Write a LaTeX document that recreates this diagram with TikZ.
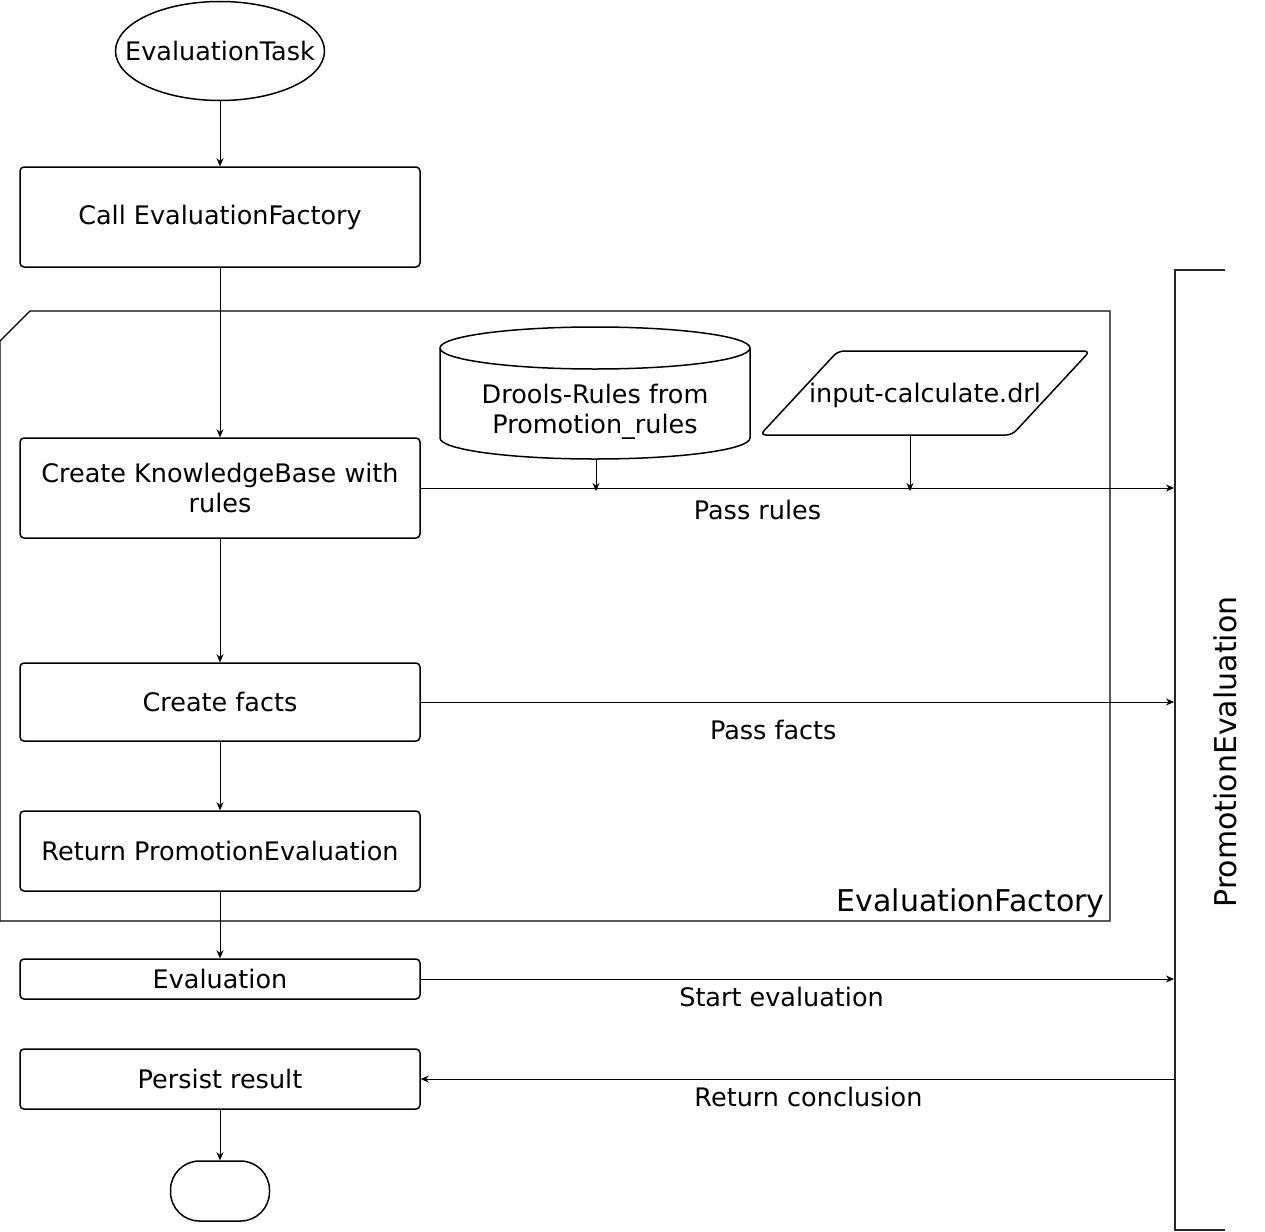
\documentclass[tikz,border=0pt]{standalone}
\usepackage{fontspec}
\setmainfont{DejaVu Sans}
\usetikzlibrary{shapes.geometric,arrows.meta}

\begin{document}
\begin{tikzpicture}[x=1pt,y=-1pt,
    every node/.style={font=\fontsize{25.5}{30}\selectfont, align=center},
    proc/.style={draw, line width=1.5pt, rounded corners=4pt, minimum width=400pt, inner sep=0pt},
    flow/.style={-{Stealth[length=8pt,width=7pt]}, line width=0.8pt},
    lbl/.style={inner sep=0pt, anchor=base},
    big/.style={font=\fontsize{30}{36}\selectfont}]
    \useasboundingbox (0,0) rectangle (1265,1231);

    % frame of the factory
    \draw[line width=1.1pt] (0,341) -- (30,311) -- (1110,311) -- (1110,921) -- (0,921) -- cycle;
    \node[big, anchor=base east] (factory) at (1108,911) {EvaluationFactory};

    % main flow
    \node[draw, ellipse, line width=1.5pt, minimum width=209pt, minimum height=99pt, inner xsep=-21pt, inner ysep=0pt] (task) at (220,51) {EvaluationTask};
    \node[proc, minimum height=100pt] (call) at (220,217) {Call EvaluationFactory};
    \node[proc, minimum height=100pt] (kb) at (220,488) {Create KnowledgeBase with\\rules};
    \node[proc, minimum height=78pt] (facts) at (220,702) {Create facts};
    \node[proc, minimum height=80pt] (ret) at (220,851) {Return PromotionEvaluation};
    \node[proc, minimum height=40pt] (eval) at (220,979) {Evaluation};
    \node[proc, minimum height=60pt] (persist) at (220,1079) {Persist result};
    \node[draw, line width=1.5pt, rounded corners=29pt, minimum width=99pt, minimum height=60pt] (stop) at (220,1191) {};

    % rule sources
    \draw[line width=1.5pt] (440,348) -- (440,438) arc[start angle=180, end angle=0, x radius=155, y radius=21]
        -- (750,348) arc[start angle=0, end angle=-180, x radius=155, y radius=21] -- cycle;
    \draw[line width=1.5pt] (440,348) arc[start angle=180, end angle=0, x radius=155, y radius=21];
    \node (drools) at (595,412) {Drools-Rules from\\Promotion\_rules};
    \draw[line width=1.5pt, rounded corners=6pt] (838,351) -- (1090,351) -- (1012,435) -- (760,435) -- cycle;
    \node (drl) at (925,395) {input-calculate.drl};
    \coordinate (dbout) at (596,459);
    \coordinate (drlout) at (910,435);

    % the evaluator
    \draw[line width=2pt, draw=black!85] (1225,270) -- (1175,270) -- (1175,1230) -- (1225,1230);
    \node[big, rotate=90] (promo) at (1225,752) {PromotionEvaluation};
    \coordinate (bar) at (1174,0);
    \coordinate (barback) at (1175,0);

    \draw[flow] (task) -- (call);
    \draw[flow] (call) -- (kb);
    \draw[flow] (kb) -- (facts);
    \draw[flow] (facts) -- (ret);
    \draw[flow] (ret) -- (eval);
    \draw[flow] (persist) -- (stop);
    \draw[flow] (dbout) -- ++(0,32);
    \draw[flow] (drlout) -- ++(0,56);

    \draw[flow] (kb.east) -- (kb.east -| bar) node[lbl, pos=0.447, yshift=-31pt] {Pass rules};
    \draw[flow] (facts.east) -- (facts.east -| bar) node[lbl, pos=0.468, yshift=-37pt] {Pass facts};
    \draw[flow] (eval.east) -- (eval.east -| bar) node[lbl, pos=0.479, yshift=-27pt] {Start evaluation};
    \draw[flow] (persist.east -| barback) -- (persist.east) node[lbl, pos=0.486, yshift=-27pt] {Return conclusion};

\end{tikzpicture}
\end{document}
